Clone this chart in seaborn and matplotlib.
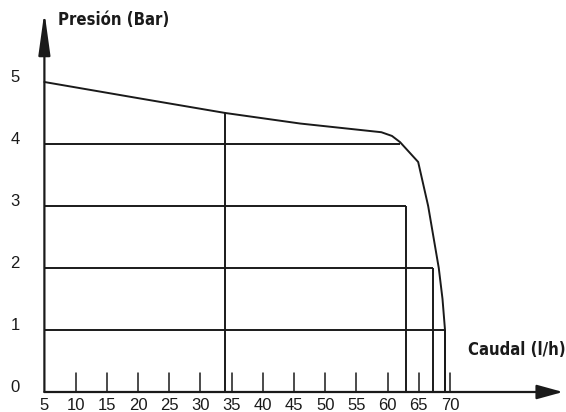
import matplotlib
matplotlib.use("Agg")
import matplotlib.pyplot as plt
import seaborn as sns
import pandas as pd

# ---- data ----
flow_ticks = [5, 10, 15, 20, 25, 30, 35, 40, 45, 50, 55, 60, 65, 70]
pressure_ticks = [0, 1, 2, 3, 4, 5]
curve_flow = [5, 20, 34, 46, 59, 60.7, 62, 64.9, 66.5, 68.2, 68.8, 69.2, 69.2]
curve_pressure = [5.0, 4.74, 4.5, 4.33, 4.19, 4.13, 4.03, 3.71, 3.0, 2.0, 1.5, 1.0, 0.0]
level_pressure = [4, 3, 2, 1]
level_flow_end = [62.0, 63.0, 67.3, 69.2]
marker_flow = 34
marker_pressure = 4.5
y_title = "Presión (Bar)"
x_title = "Caudal (l/h)"

sns.set_style("white")
plt.rcParams['font.family'] = ['Liberation Sans', 'DejaVu Sans']

fig = plt.figure(figsize=(5.66, 4.12), dpi=100)
ax = fig.add_axes([0, 0, 1, 1])
ax.set_xlim(-2.115, 88.59)
ax.set_ylim(-0.3226, 6.3226)
ax.axis('off')

lw = 1.4
col = "#1a1a1a"

# pump curve
df = pd.DataFrame({"flow": curve_flow, "pressure": curve_pressure})
sns.lineplot(data=df, x="flow", y="pressure", sort=False, estimator=None,
             color=col, linewidth=lw, ax=ax)

# reference rectangles
x0 = flow_ticks[0]
for p, fe in zip(level_pressure, level_flow_end):
    ax.plot([x0, fe], [p, p], color=col, linewidth=lw, solid_capstyle='butt')
    if p < 4:
        ax.plot([fe, fe], [0, p], color=col, linewidth=lw, solid_capstyle='butt')
ax.plot([marker_flow, marker_flow], [0, marker_pressure], color=col, linewidth=lw)

# axes arrows
ax.annotate('', xy=(x0, 6.13), xytext=(x0, 0),
            arrowprops=dict(arrowstyle='-|>,head_length=1.3,head_width=0.18',
                            mutation_scale=20, color=col, lw=1.6,
                            shrinkA=0, shrinkB=0))
ax.annotate('', xy=(88.1, 0), xytext=(x0, 0),
            arrowprops=dict(arrowstyle='-|>,head_length=0.8,head_width=0.22',
                            mutation_scale=20, color=col, lw=1.6,
                            shrinkA=0, shrinkB=0))

# x ticks
for t in flow_ticks[1:]:
    ax.plot([t, t], [0, 0.3], color=col, linewidth=1.1)
for t in flow_ticks:
    ax.text(t, -0.22, str(t), ha='center', va='center', fontsize=12, color=col)

# y tick labels
for t in pressure_ticks:
    ax.text(0.29, t + 0.08, str(t), ha='center', va='center', fontsize=12, color=col)

# axis titles
cond_family = ['DejaVu Sans', 'Liberation Sans']
ax.text(7.18, 6.0, y_title, ha='left', va='center', fontsize=12, fontweight='bold',
        family=cond_family, fontstretch='condensed', color=col)
ax.text(88.5, 0.68, x_title, ha='right', va='center', fontsize=12, fontweight='bold',
        family=cond_family, fontstretch='condensed', color=col)

fig.savefig("out.png", dpi=100)
